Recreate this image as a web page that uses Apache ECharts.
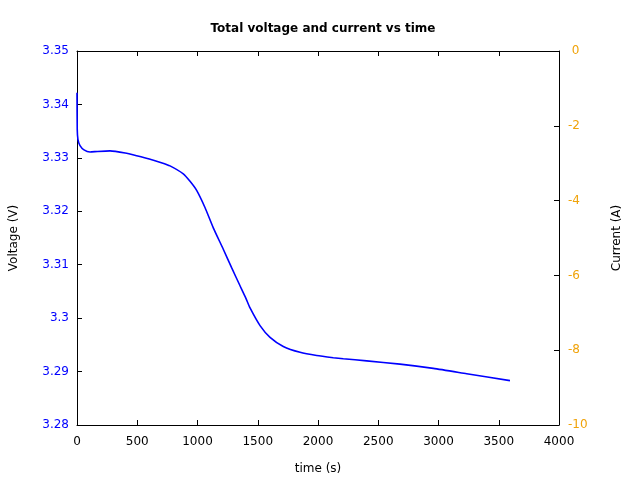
<!DOCTYPE html>
<html>
<head>
<meta charset="utf-8">
<script src="https://cdn.jsdelivr.net/npm/echarts@6/dist/echarts.min.js"></script>
<style>html,body{margin:0;padding:0;background:#fff}#c{width:640px;height:480px}</style>
</head>
<body>
<div id="c"></div>
<script>
var timeS = [0, 2, 8, 25, 58, 108, 170, 274, 400, 495, 600, 700, 772, 882, 938, 993, 1062, 1131, 1214, 1284, 1350, 1400, 1436, 1519, 1602, 1712, 1851, 1989, 2127, 2210, 2404, 2680, 2957, 3234, 3593];
var voltage = [3.3422, 3.3353, 3.3334, 3.3323, 3.3315, 3.3311, 3.3312, 3.3313, 3.3309, 3.3304, 3.3298, 3.3291, 3.3285, 3.3270, 3.3256, 3.3239, 3.3207, 3.3169, 3.3129, 3.3094, 3.3062, 3.3038, 3.3019, 3.2986, 3.2964, 3.2947, 3.2936, 3.2930, 3.2926, 3.2924, 3.2920, 3.2914, 3.2906, 3.2896, 3.2883];
var xTicks = [0, 500, 1000, 1500, 2000, 2500, 3000, 3500, 4000];
var vTicks = [3.28, 3.29, 3.30, 3.31, 3.32, 3.33, 3.34, 3.35];
var iTicks = [-10, -8, -6, -4, -2, 0];

var font = 'DejaVu Sans';
var pts = timeS.map(function (t, i) { return [t, voltage[i]]; });
var chart = echarts.init(document.getElementById('c'));
var line = {show: true, onZero: false, lineStyle: {color: '#000', width: 1}};
function tick() { return {show: true, inside: true, length: 5, lineStyle: {color: '#000', width: 1}}; }
chart.setOption({
  animation: false,
  title: {
    text: 'Total voltage and current vs time',
    left: 318, top: 18, textAlign: 'center',
    textStyle: {fontFamily: font, fontSize: 12, fontWeight: 'bold', color: '#000'}
  },
  grid: {left: 77, right: 81, top: 51, bottom: 54},
  xAxis: [{
    type: 'value', min: xTicks[0], max: xTicks[xTicks.length - 1], interval: 500,
    position: 'bottom',
    name: 'time (s)', nameLocation: 'middle', nameGap: 38,
    nameTextStyle: {fontFamily: font, fontSize: 12, color: '#000'},
    axisLine: line, axisTick: tick(),
    axisLabel: {fontFamily: font, fontSize: 12, color: '#000', margin: 11,
      formatter: function (v) { return String(v); }},
    splitLine: {show: false}
  }, {
    type: 'value', min: xTicks[0], max: xTicks[xTicks.length - 1], interval: 500,
    position: 'top',
    axisLine: line, axisTick: tick(),
    axisLabel: {show: false},
    splitLine: {show: false}
  }],
  yAxis: [{
    type: 'value', min: vTicks[0], max: vTicks[vTicks.length - 1], interval: 0.01, position: 'left',
    name: 'Voltage (V)', nameLocation: 'middle', nameGap: 57, nameRotate: 90,
    nameTextStyle: {fontFamily: font, fontSize: 12, color: '#000'},
    axisLine: line, axisTick: tick(),
    axisLabel: {fontFamily: font, fontSize: 12, color: '#0000ff', margin: 8,
      formatter: function (v) { return String(+v.toFixed(2)); }},
    splitLine: {show: false}
  }, {
    type: 'value', min: iTicks[0], max: iTicks[iTicks.length - 1], interval: 2, position: 'right',
    name: 'Current (A)', nameLocation: 'middle', nameGap: 52, nameRotate: 90,
    nameTextStyle: {fontFamily: font, fontSize: 12, color: '#000'},
    axisLine: line, axisTick: tick(),
    axisLabel: {fontFamily: font, fontSize: 12, color: '#f0a30a', margin: 9,
      formatter: function (v) { return v === 0 ? ' 0' : String(v); }},
    splitLine: {show: false}
  }],
  series: [{
    type: 'line', xAxisIndex: 0, yAxisIndex: 0, data: pts,
    showSymbol: false, smooth: 0.2,
    lineStyle: {color: '#0000ff', width: 1.6}
  }]
});
</script>
</body>
</html>
